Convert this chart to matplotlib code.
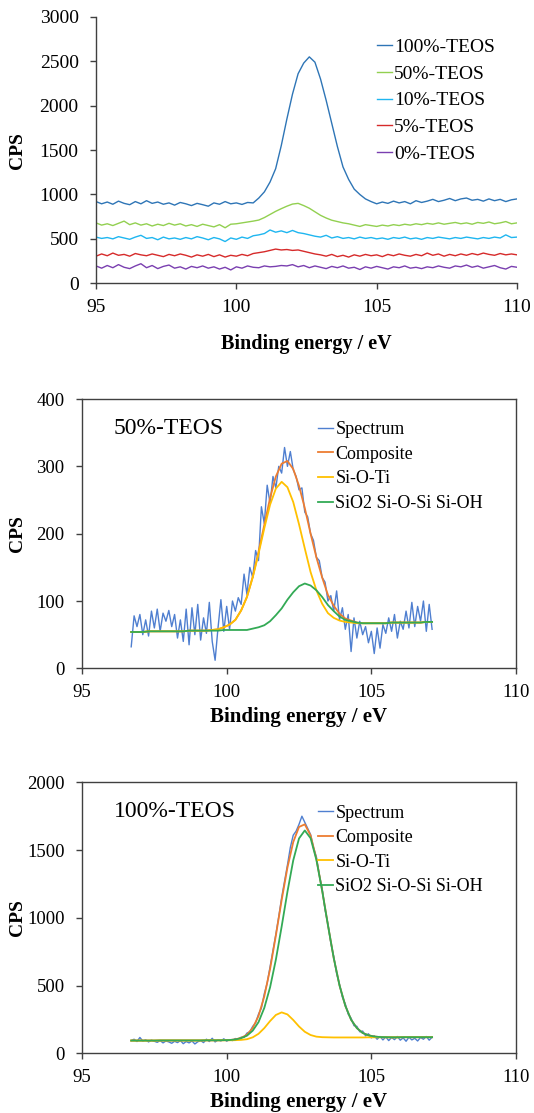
import numpy as np
import matplotlib
matplotlib.use('Agg')
import matplotlib.pyplot as plt

plt.rcParams['font.family'] = ['Liberation Serif', 'DejaVu Serif']
plt.rcParams['mathtext.default'] = 'regular'

# ---- top panel: Si 2p survey for each TEOS ratio (step 0.2 eV, 95 -> 110)
energy_top = np.round(np.arange(76) * 0.2 + 95.0, 2)

teos100 = [920, 895, 915, 890, 925, 900, 885, 920, 895, 930,
           900, 915, 890, 905, 880, 910, 895, 875, 900, 885,
           868, 905, 890, 920, 895, 905, 888, 910, 905, 960,
           1030, 1140, 1290, 1550, 1850, 2130, 2360, 2480, 2550, 2490,
           2300, 2060, 1800, 1540, 1310, 1170, 1060, 1000, 950, 920,
           895, 915, 900, 925, 905, 920, 895, 930, 910, 925,
           945, 920, 935, 955, 930, 950, 960, 935, 945, 925,
           950, 930, 945, 920, 940, 950]
teos50 = [680, 655, 670, 650, 675, 700, 660, 680, 655, 670,
          645, 665, 650, 675, 655, 670, 645, 660, 640, 665,
          650, 635, 660, 625, 665, 670, 680, 690, 700, 712,
          740, 775, 810, 840, 868, 892, 900, 875, 845, 805,
          765, 735, 710, 695, 680, 670, 655, 640, 660, 650,
          640, 655, 645, 660, 650, 665, 655, 670, 660, 675,
          665, 680, 665, 675, 685, 670, 680, 665, 685, 675,
          690, 670, 680, 695, 670, 680]
teos10 = [520, 505, 515, 500, 525, 510, 495, 520, 540, 505,
          515, 490, 520, 500, 510, 495, 515, 500, 525, 510,
          490, 515, 500, 470, 510, 495, 520, 505, 535, 545,
          560, 600, 575, 590, 570, 595, 570, 560, 545, 530,
          520, 540, 510, 525, 505, 515, 500, 520, 505, 515,
          500, 510, 495, 515, 505, 520, 500, 510, 495, 515,
          505, 520, 510, 500, 515, 505, 520, 510, 500, 515,
          505, 520, 510, 545, 515, 520]
teos5 = [305, 330, 310, 340, 315, 325, 305, 335, 320, 310,
         330, 315, 300, 325, 310, 330, 315, 295, 320, 305,
         325, 300, 320, 295, 315, 305, 325, 310, 335, 345,
         355, 370, 385, 375, 380, 370, 375, 360, 345, 330,
         320, 305, 325, 300, 315, 295, 320, 305, 325, 310,
         320, 300, 325, 310, 330, 315, 305, 325, 310, 340,
         315, 330, 305, 325, 310, 330, 315, 335, 320, 340,
         325, 315, 335, 320, 330, 320]
teos0 = [195, 170, 200, 175, 210, 180, 165, 195, 220, 175,
         200, 165, 190, 205, 170, 185, 160, 190, 175, 195,
         170, 185, 160, 180, 150, 185, 170, 195, 180, 175,
         195, 185, 190, 200, 195, 210, 185, 200, 175, 195,
         180, 165, 190, 175, 195, 170, 180, 155, 185, 170,
         190, 175, 160, 185, 175, 195, 170, 180, 165, 185,
         175, 195, 180, 170, 195, 185, 205, 180, 195, 170,
         185, 200, 175, 160, 190, 180]

top_labels = ['100%-TEOS', '50%-TEOS', '10%-TEOS', '5%-TEOS', '0%-TEOS']
top_colors = ['#2E75B6', '#92D050', '#1FB6F0', '#D62A2A', '#7A3FB0']

# ---- fitted panels: raw spectrum (0.1 eV) and fit curves (0.2 eV)
energy_raw = np.round(np.arange(105) * 0.1 + 96.7, 2)
energy_fit = np.round(np.arange(53) * 0.2 + 96.7, 2)

spec50 = [32, 78, 62, 80, 50, 72, 48, 85, 60, 88,
          55, 82, 70, 86, 62, 80, 45, 72, 40, 88,
          35, 90, 50, 95, 42, 75, 52, 98, 40, 12,
          60, 102, 55, 92, 58, 100, 85, 105, 95, 140,
          110, 150, 135, 175, 160, 240, 215, 272, 245, 285,
          268, 300, 290, 328, 300, 322, 295, 285, 265, 268,
          232, 225, 200, 190, 165, 160, 135, 128, 100, 108,
          85, 115, 72, 90, 58, 80, 25, 75, 45, 70,
          50, 62, 38, 55, 22, 60, 30, 65, 52, 75,
          55, 80, 45, 70, 58, 85, 60, 98, 62, 92,
          70, 100, 55, 95, 58]
comp50 = [54, 54, 54, 55, 55, 55, 55, 55, 55, 55,
          56, 56, 56, 56, 57, 58, 61, 65, 72, 86,
          106, 136, 173, 213, 253, 285, 304, 308, 296, 271,
          238, 200, 165, 135, 109, 93, 81, 74, 71, 68,
          67, 67, 67, 67, 67, 68, 68, 68, 68, 68,
          68, 69, 69]
siti50 = [54, 54, 54, 55, 55, 55, 55, 55, 55, 55,
          56, 56, 56, 56, 57, 58, 61, 65, 72, 86,
          106, 135, 170, 208, 243, 267, 277, 269, 247, 214,
          178, 143, 116, 96, 82, 75, 71, 69, 68, 67,
          67, 67, 67, 67, 67, 68, 68, 68, 68, 68,
          68, 69, 69]
sio50 = [54, 54, 54, 55, 55, 55, 55, 55, 55, 55,
         56, 56, 56, 56, 56, 56, 57, 57, 57, 57,
         57, 59, 61, 64, 70, 79, 89, 102, 113, 122,
         126, 123, 116, 106, 94, 85, 77, 72, 70, 68,
         67, 67, 67, 67, 67, 68, 68, 68, 68, 68,
         68, 69, 69]

spec100 = [95, 105, 88, 118, 92, 100, 85, 98, 90, 82,
           95, 78, 92, 85, 75, 90, 80, 95, 72, 88,
           78, 92, 70, 86, 95, 80, 105, 88, 112, 85,
           100, 92, 108, 90, 102, 95, 110, 105, 120, 118,
           150, 160, 200, 225, 290, 335, 440, 520, 640, 760,
           880, 1010, 1150, 1270, 1390, 1520, 1610, 1640, 1690, 1750,
           1705, 1660, 1615, 1520, 1450, 1320, 1215, 1060, 955, 815,
           715, 590, 510, 415, 365, 290, 260, 205, 200, 160,
           165, 130, 145, 115, 130, 105, 125, 100, 122, 95,
           118, 102, 125, 98, 115, 90, 120, 100, 112, 92,
           118, 105, 125, 98, 120]
comp100 = [95, 95, 95, 95, 95, 96, 96, 96, 96, 96,
           96, 96, 96, 97, 97, 97, 98, 99, 104, 115,
           138, 188, 276, 421, 623, 870, 1131, 1371, 1559, 1671,
           1690, 1608, 1436, 1203, 947, 704, 502, 352, 249, 187,
           151, 134, 125, 121, 120, 119, 119, 120, 120, 120,
           120, 120, 120]
siti100 = [95, 95, 95, 95, 95, 96, 96, 96, 96, 96,
           96, 96, 96, 97, 97, 97, 97, 97, 98, 100,
           105, 119, 145, 187, 239, 284, 303, 288, 247, 199,
           160, 136, 124, 120, 119, 118, 118, 118, 118, 118,
           118, 119, 119, 119, 119, 119, 119, 120, 120, 120,
           120, 120, 120]
sio100 = [95, 95, 95, 95, 95, 96, 96, 96, 96, 96,
          96, 96, 96, 97, 97, 97, 98, 99, 103, 113,
          131, 168, 231, 336, 488, 692, 936, 1193, 1424, 1586,
          1645, 1588, 1429, 1201, 946, 704, 502, 352, 249, 187,
          151, 134, 125, 121, 120, 119, 119, 120, 120, 120,
          120, 120, 120]

fit_labels = ['Spectrum', 'Composite', 'Si-O-Ti', 'SiO2 Si-O-Si Si-OH']
fit_colors = ['#4F7FD0', '#ED7D31', '#FFC000', '#33AA55']

AX_COLOR = '#404040'


def style_axes(ax, box, tick_size):
    for side in ['left', 'bottom']:
        ax.spines[side].set_color(AX_COLOR)
        ax.spines[side].set_linewidth(1.0)
    for side in ['top', 'right']:
        ax.spines[side].set_visible(box)
        ax.spines[side].set_color(AX_COLOR)
        ax.spines[side].set_linewidth(1.0)
    ax.tick_params(direction='out', length=4.5, width=1.0, color=AX_COLOR,
                   labelsize=tick_size, top=False, right=False)
    ax.tick_params(axis='y', pad=8)
    ax.tick_params(axis='x', pad=7)
    ax.set_xlim(95, 110)
    ax.set_xticks([95, 100, 105, 110])


def fit_panel(ax, spec, comp, siti, sio, ymax, ystep, title):
    style_axes(ax, True, 13.5)
    ax.plot(energy_raw, spec, color=fit_colors[0], lw=1.0, label=fit_labels[0])
    ax.plot(energy_fit, comp, color=fit_colors[1], lw=1.3, label=fit_labels[1])
    ax.plot(energy_fit, siti, color=fit_colors[2], lw=1.3, label=fit_labels[2])
    ax.plot(energy_fit, sio, color=fit_colors[3], lw=1.3, label=fit_labels[3])
    ax.set_ylim(0, ymax)
    ax.set_yticks(np.arange(0, ymax + 1, ystep))
    ax.text(0.073, 0.892, title, transform=ax.transAxes, fontsize=17,
            va='center', ha='left')
    ax.legend(loc='upper left', bbox_to_anchor=(0.544, 0.918), frameon=False,
              handlelength=0.8, handletextpad=0.15, labelspacing=0.42,
              borderpad=0, borderaxespad=0, fontsize=13)
    ax.set_ylabel('CPS', fontsize=14, fontweight='bold')
    ax.set_xlabel('Binding energy / eV', fontsize=15, fontweight='bold')
    ax.yaxis.set_label_coords(-0.129, 0.5)
    ax.xaxis.set_label_coords(0.5, -0.142)


fig = plt.figure(figsize=(5.34, 11.13), dpi=100)

# top panel
ax1 = fig.add_axes([0.1798, 0.7455, 0.7884, 0.2393])
style_axes(ax1, False, 14)
for vals, lab, col in zip([teos100, teos50, teos10, teos5, teos0], top_labels, top_colors):
    ax1.plot(energy_top, vals, color=col, lw=1.0, label=lab)
ax1.set_ylim(0, 3000)
ax1.set_yticks(np.arange(0, 3001, 500))
ax1.legend(loc='upper left', bbox_to_anchor=(0.667, 0.92), frameon=False,
           handlelength=0.8, handletextpad=0.1, labelspacing=0.47,
           borderpad=0, borderaxespad=0, fontsize=14)
ax1.set_ylabel('CPS', fontsize=14, fontweight='bold')
ax1.set_xlabel('Binding energy / eV', fontsize=14.5, fontweight='bold')
ax1.yaxis.set_label_coords(-0.166, 0.5)
ax1.xaxis.set_label_coords(0.5, -0.19)

# 50% TEOS fit
ax2 = fig.add_axes([0.1536, 0.3995, 0.8127, 0.2420])
fit_panel(ax2, spec50, comp50, siti50, sio50, 400, 100, '50%-TEOS')

# 100% TEOS fit
ax3 = fig.add_axes([0.1536, 0.0535, 0.8127, 0.2436])
fit_panel(ax3, spec100, comp100, siti100, sio100, 2000, 500, '100%-TEOS')

fig.savefig('out.png', dpi=100)
plt.close()
